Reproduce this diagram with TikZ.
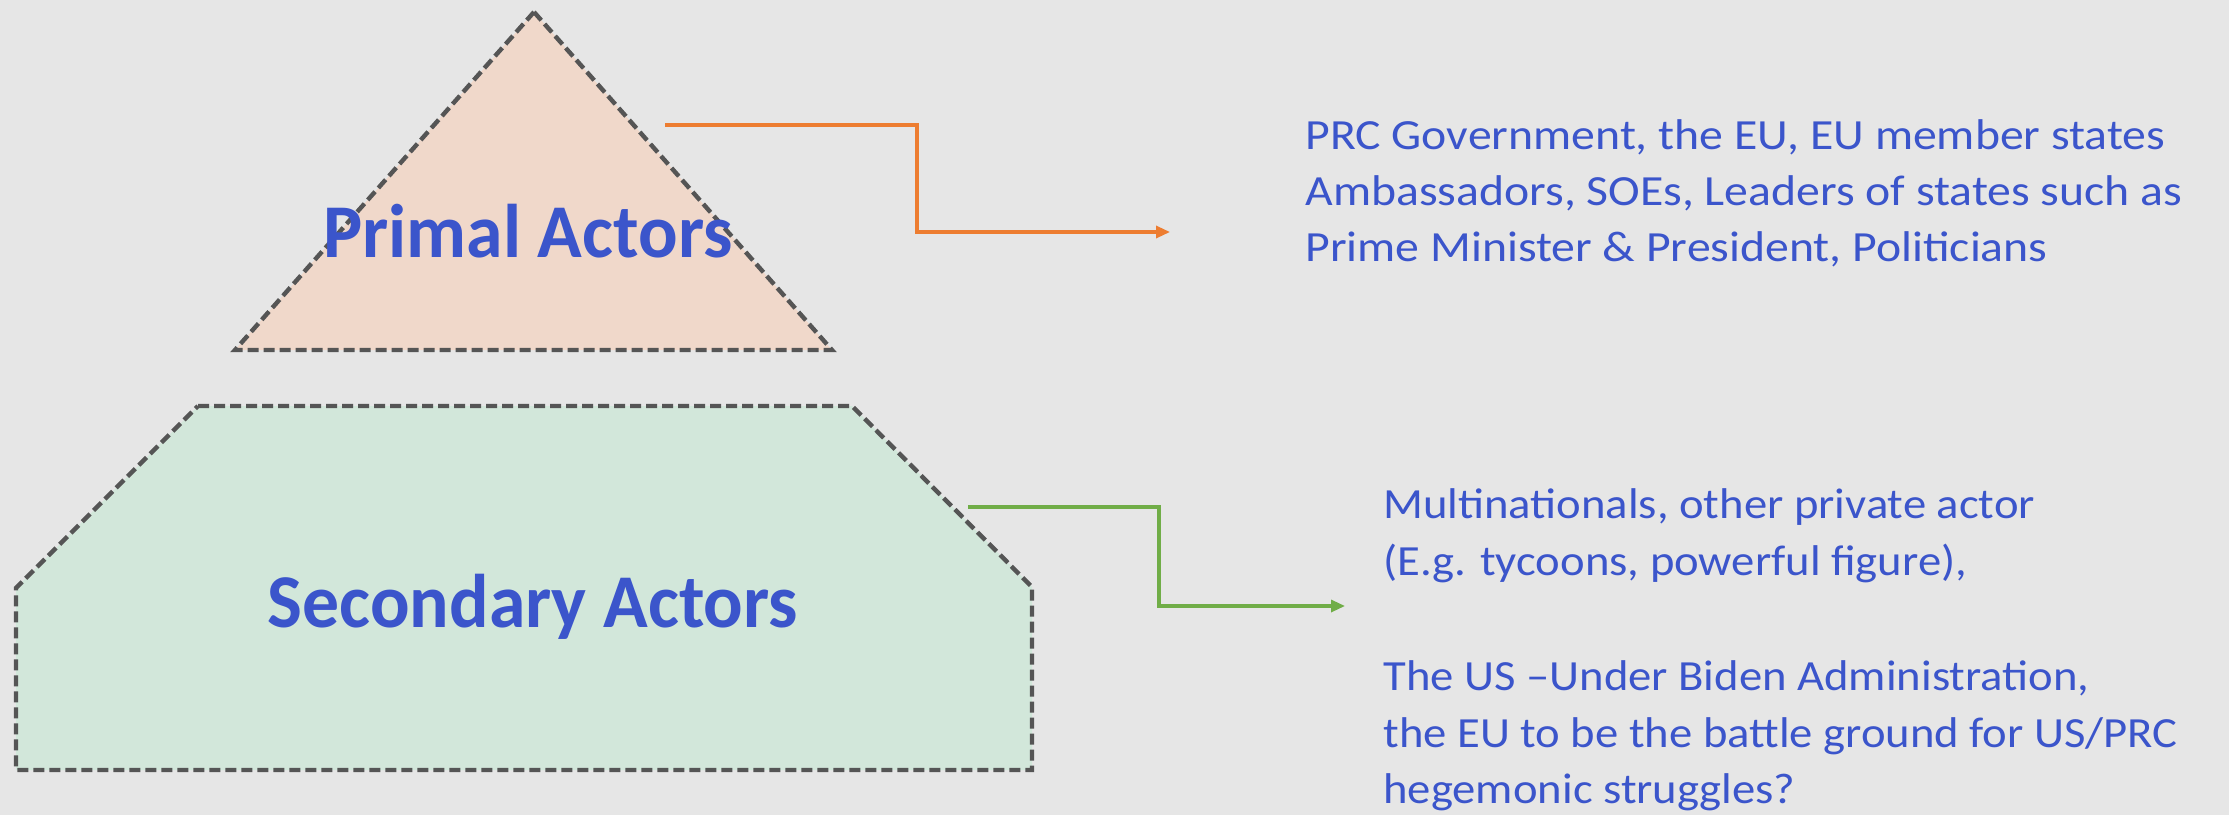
\documentclass[tikz,border=0pt]{standalone}
\usepackage{fontspec}
\setmainfont{Carlito}
\usetikzlibrary{arrows.meta}
\definecolor{bgc}{HTML}{E6E6E6}
\definecolor{txtblue}{HTML}{3B55CB}
\definecolor{peach}{HTML}{F0D8CA}
\definecolor{mint}{HTML}{D2E7DA}
\definecolor{edgegray}{HTML}{555555}
\definecolor{orangec}{HTML}{ED7D31}
\definecolor{greenc}{HTML}{70AD47}
\newfontfamily\bigfont[FakeStretch=0.97]{Carlito}
\newfontfamily\descfonta[FakeStretch=1.11]{Carlito}
\newfontfamily\descfontb[FakeStretch=1.085]{Carlito}
\tikzset{
  tier/.style={draw=edgegray, line width=2.2pt, dash pattern=on 5.5pt off 2.5pt, line join=miter},
  biglabel/.style={anchor=base, inner sep=0pt, text=txtblue, font=\bigfont\fontsize{38}{46}\selectfont\bfseries},
  desca/.style={anchor=base west, inner sep=0pt, text=txtblue, font=\descfonta\fontsize{21.5}{28}\selectfont},
  descb/.style={anchor=base west, inner sep=0pt, text=txtblue, font=\descfontb\fontsize{21.5}{28}\selectfont},
  link/.style={line width=1.6pt, -{Triangle[length=7pt,width=6pt]}}
}
\begin{document}
\begin{tikzpicture}[x=0.5pt,y=-0.5pt]
\fill[bgc] (0,0) rectangle (2229,815);
\useasboundingbox (0,0) rectangle (2229,815);
% shapes
\draw[tier, fill=peach] (534,12) -- (832,350) -- (235,350) -- cycle;
\draw[tier, fill=mint] (198,406) -- (852,406) -- (1032,587) -- (1032,770) -- (16,770) -- (16,588) -- cycle;
% labels
\node[biglabel] (primal) at (528,257) {Primal Actors};
\node[biglabel] (secondary) at (533,627) {Secondary Actors};
% description texts
\node[desca] (p1) at (1305,149) {PRC Government, the EU, EU member states};
\node[desca] (p2) at (1305,205) {Ambassadors, SOEs, Leaders of states such as};
\node[desca] (p3) at (1305,261) {Prime Minister \& President, Politicians};
\node[descb] (s1) at (1383,518) {Multinationals, other private actor};
\node[descb] (s2) at (1383,575) {(E.g. tycoons, powerful figure),};
\node[descb] (s3) at (1383,690) {The US –Under Biden Administration,};
\node[descb] (s4) at (1383,747) {the EU to be the battle ground for US/PRC};
\node[descb] (s5) at (1383,803) {hegemonic struggles?};
% connectors
\coordinate (o1) at (665,125);
\coordinate (ob) at (917,178);
\coordinate (o2) at (1170,232);
\draw[link, draw=orangec] (o1) -| (ob) |- (o2);
\coordinate (g1) at (968,507);
\coordinate (gb) at (1159,556);
\coordinate (g2) at (1345,606);
\draw[link, draw=greenc] (g1) -| (gb) |- (g2);
\end{tikzpicture}
\end{document}
